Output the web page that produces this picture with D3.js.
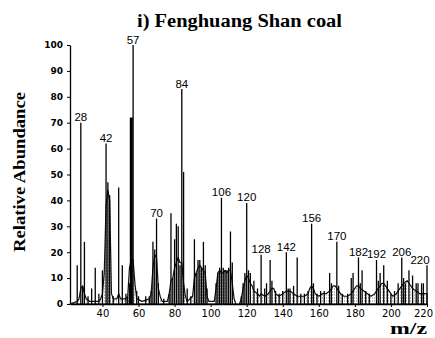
<!DOCTYPE html>
<html>
<head>
<meta charset="utf-8">
<script src="https://cdn.jsdelivr.net/npm/d3@7"></script>
<style>
  body { margin: 0; background: #fff; }
</style>
</head>
<body>
<div id="chart"></div>
<script>
// stick spectrum: [m/z, relative abundance]
const sticks = [
  [26, 15], [28, 70], [29, 7], [30, 24], [32, 3], [34, 6], [36, 14], [38, 4], [40, 13],
  [42, 62], [43, 47], [44, 42], [46, 3], [49, 45], [51, 15], [53, 4], [54, 3], [55, 8],
  [56, 72], [57, 100], [59, 5], [60, 3], [64, 3], [66, 3], [67, 5], [68, 24], [69, 21],
  [70, 33], [71, 8], [74, 2], [77, 4], [78, 35], [79, 10], [80, 25], [81, 31], [82, 30],
  [83, 15], [84, 83], [85, 51], [87, 6], [89, 3], [91, 25], [92, 12], [93, 17], [94, 17],
  [95, 14], [96, 24], [97, 15], [98, 6], [103, 8], [104, 12], [105, 14], [106, 41],
  [107, 14], [108, 13], [109, 13], [110, 14], [111, 28], [112, 16], [117, 3], [118, 8],
  [119, 12], [120, 39], [121, 13], [122, 12], [124, 9], [126, 6], [128, 19], [130, 6],
  [131, 8], [133, 17], [134, 9], [136, 5], [138, 4], [140, 5], [142, 20], [143, 6],
  [144, 6], [146, 7], [148, 18], [150, 4], [152, 4], [154, 5], [156, 31], [157, 8],
  [159, 4], [161, 5], [163, 5], [166, 12], [167, 8], [170, 24], [171, 7], [173, 4],
  [176, 4], [178, 10], [179, 12], [182, 18], [183, 8], [184, 13], [186, 5], [188, 4],
  [192, 17], [193, 9], [194, 12], [196, 15], [198, 9], [200, 4], [202, 5], [204, 8],
  [206, 18], [207, 10], [208, 8], [210, 13], [212, 11], [214, 8], [215, 8], [217, 8],
  [218, 8], [220, 15],
];

// broad peaks drawn as heavy bars
const heavyMz = [56];

// shaded background envelope: [m/z, relative abundance]
const envelope = [
  [22, 0], [26, 1], [27, 2], [28, 6], [29, 7], [30, 4], [31, 2], [33, 1], [38, 1],
  [39, 2], [40, 4], [41, 12], [42, 38], [43, 44], [44, 40], [45, 4], [46, 2], [48, 2],
  [49, 4], [50, 2], [53, 2], [54, 3], [55, 14], [56, 17], [57, 17], [58, 8], [59, 2],
  [62, 1], [66, 2], [67, 4], [68, 14], [69, 19], [70, 18], [71, 6], [72, 3], [73, 1],
  [76, 1], [77, 4], [78, 9], [79, 10], [80, 14], [81, 16], [82, 18], [83, 16], [84, 16],
  [85, 8], [86, 3], [87, 1], [90, 3], [91, 10], [92, 12], [93, 14], [94, 15], [95, 14],
  [96, 13], [97, 12], [98, 3], [99, 1], [102, 1], [103, 6], [104, 12], [105, 13],
  [106, 12], [107, 12], [108, 13], [109, 12], [110, 13], [111, 13], [112, 8], [113, 2],
  [114, 0], [116, 0], [117, 2], [118, 6], [119, 9], [120, 11], [121, 10], [122, 8],
  [123, 7], [124, 5], [126, 4], [127, 3], [128, 4], [130, 3], [132, 4], [133, 5],
  [134, 6], [135, 6], [136, 4], [138, 3], [140, 4], [142, 5], [144, 5], [146, 4],
  [148, 3], [150, 3], [152, 3], [154, 4], [155, 6], [156, 7], [157, 6], [158, 4],
  [160, 3], [162, 4], [164, 4], [166, 5], [168, 7], [169, 7], [170, 6], [172, 4],
  [174, 3], [176, 3], [178, 4], [180, 6], [181, 7], [182, 7], [183, 6], [185, 5],
  [187, 4], [189, 3], [191, 4], [193, 6], [195, 8], [196, 8], [197, 7], [199, 5],
  [201, 3], [203, 4], [205, 6], [207, 8], [209, 9], [210, 8], [212, 6], [214, 5],
  [216, 4], [218, 4], [220, 4],
];

// labelled peaks
const labelledMz = [28, 42, 57, 70, 84, 106, 120, 128, 142, 156, 170, 182, 192, 206, 220];

// axes
const xTicks = [40, 60, 80, 100, 120, 140, 160, 180, 200, 220];
const yTicks = [0, 10, 20, 30, 40, 50, 60, 70, 80, 90, 100];

const width = 435;
const height = 338;
const margin = { top: 45, left: 70, right: 8, bottom: 34 };

const svg = d3
  .select("#chart")
  .append("svg")
  .attr("width", width)
  .attr("height", height);

// vertical hatching for the envelope
svg
  .append("defs")
  .append("pattern")
  .attr("id", "hatch")
  .attr("patternUnits", "userSpaceOnUse")
  .attr("width", 2)
  .attr("height", 3)
  .append("rect")
  .attr("x", 0)
  .attr("y", 0)
  .attr("width", 0.7)
  .attr("height", 2)
  .style("fill", "#a4a4a4");

const x = d3.scaleLinear().domain([22, 220]).range([margin.left, 427]);
const y = d3.scaleLinear().domain([0, 100]).range([304, margin.top]);

// envelope area
const area = d3
  .area()
  .x((d) => x(d[0]))
  .y0(y(0))
  .y1((d) => y(d[1]));

svg
  .append("path")
  .datum(envelope)
  .attr("d", area)
  .style("fill", "url(#hatch)")
  .style("stroke", "#111")
  .style("stroke-width", 1.2)
  .style("stroke-linejoin", "round");

// sticks
svg
  .selectAll("line.stick")
  .data(sticks)
  .enter()
  .append("line")
  .attr("class", "stick")
  .attr("x1", (d) => x(d[0]))
  .attr("x2", (d) => x(d[0]))
  .attr("y1", y(0))
  .attr("y2", (d) => y(d[1]))
  .style("stroke", "#000")
  .style("stroke-width", (d) => (heavyMz.includes(d[0]) ? 3 : 1.3));

// peak labels
const stickByMz = new Map(sticks);
svg
  .selectAll("text.peak")
  .data(labelledMz)
  .enter()
  .append("text")
  .attr("class", "peak")
  .attr("x", (d) => Math.min(x(d), width - 15))
  .attr("y", (d) => y(stickByMz.get(d)) - 1.5)
  .attr("text-anchor", "middle")
  .style("font-family", "'Liberation Sans', Arial, sans-serif")
  .style("font-size", "11.5px")
  .style("fill", "#000")
  .text((d) => d);

// y axis
const yAxis = svg
  .append("g")
  .attr("transform", `translate(${margin.left},0)`)
  .call(d3.axisLeft(y).tickValues(yTicks).tickSize(3).tickSizeOuter(0).tickPadding(4));

yAxis.select(".domain").style("stroke", "#000").style("stroke-width", 1.3);
yAxis
  .selectAll("text")
  .style("font-family", "'DejaVu Sans', sans-serif")
  .style("font-size", "9px")
  .style("font-weight", "bold")
  .style("fill", "#000");

// x axis
const xAxis = svg
  .append("g")
  .attr("transform", `translate(0,${y(0)})`)
  .call(d3.axisBottom(x).tickValues(xTicks).tickSize(3).tickSizeOuter(0).tickPadding(3));

xAxis.select(".domain").style("stroke", "#000").style("stroke-width", 1.5);
xAxis
  .selectAll("text")
  .attr("dx", (d) => (x(d) > width - 15 ? -4 : 0))
  .style("font-family", "'DejaVu Sans', sans-serif")
  .style("font-size", "10px")
  .style("fill", "#000");

// title and axis titles
svg
  .append("text")
  .attr("x", 239.5)
  .attr("y", 27)
  .attr("text-anchor", "middle")
  .attr("textLength", 205)
  .attr("lengthAdjust", "spacingAndGlyphs")
  .style("font-family", "'Liberation Serif', 'Times New Roman', serif")
  .style("font-weight", "bold")
  .style("font-size", "18px")
  .text("i) Fenghuang Shan coal");

svg
  .append("text")
  .attr("transform", "translate(25,172) rotate(-90)")
  .attr("text-anchor", "middle")
  .attr("textLength", 160)
  .attr("lengthAdjust", "spacingAndGlyphs")
  .style("font-family", "'Liberation Serif', 'Times New Roman', serif")
  .style("font-weight", "bold")
  .style("font-size", "17px")
  .text("Relative Abundance");

svg
  .append("text")
  .attr("x", 427)
  .attr("y", 334)
  .attr("text-anchor", "end")
  .attr("textLength", 37)
  .attr("lengthAdjust", "spacingAndGlyphs")
  .style("font-family", "'Liberation Serif', 'Times New Roman', serif")
  .style("font-weight", "bold")
  .style("font-size", "16px")
  .text("m/z");
</script>
</body>
</html>
